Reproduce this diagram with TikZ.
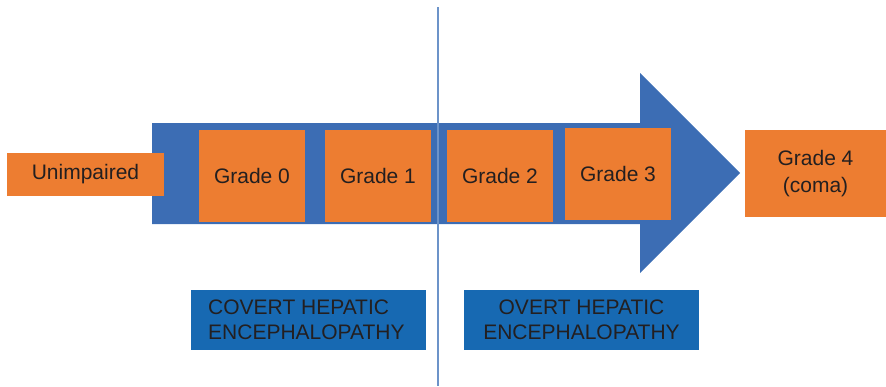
\documentclass[tikz,border=0pt]{standalone}
\usepackage{fontspec}
\setmainfont{Liberation Sans}
\definecolor{stageorange}{HTML}{ED7D31}
\definecolor{arrowblue}{HTML}{3C6DB4}
\definecolor{labelblue}{HTML}{1769B2}
\definecolor{dividerblue}{HTML}{6C93C9}
\definecolor{inkdark}{HTML}{231F20}
\begin{document}
\begin{tikzpicture}[x=1pt,y=-1pt,
  stagebox/.style={fill=stageorange, draw=none, inner sep=0pt, text=inkdark,
    font=\fontsize{21}{27}\selectfont, align=center},
  phasebox/.style={fill=labelblue, draw=none, inner sep=0pt, text=inkdark,
    font=\fontsize{21}{25}\selectfont, minimum width=235pt, minimum height=60pt}
]
\useasboundingbox (0,0) rectangle (886,386);

% progression arrow
\fill[arrowblue] (152,123) -- (640,123) -- (640,73) -- (740,173)
  -- (640,273) -- (640,224) -- (152,224) -- cycle;

% stages
\node[stagebox, minimum width=157pt, minimum height=43pt] (unimp) at (85.5,174.5) {Unimpaired};
\node[stagebox, minimum width=106pt, minimum height=92pt] (g0) at (252,176) {Grade 0};
\node[stagebox, minimum width=106pt, minimum height=92pt] (g1) at (378,176) {Grade 1};
\node[stagebox, minimum width=106pt, minimum height=92pt] (g2) at (500,176) {Grade 2};
\node[stagebox, minimum width=106pt, minimum height=92pt] (g3) at (618,174) {Grade 3};
\node[stagebox, minimum width=141pt, minimum height=87pt] (g4) at (815.5,173.5) {Grade 4\\(coma)};

% divider between covert and overt
\draw[dividerblue, line width=1.4pt] (438,7) coordinate (dtop) -- (438,386) coordinate (dbot);

% phase labels
\node[phasebox] (covert) at (308.5,320) {};
\node[anchor=west, inner sep=0pt, text=inkdark, align=left,
  font=\fontsize{21}{25}\selectfont] (coverttext) at (208,320)
  {COVERT HEPATIC\\ENCEPHALOPATHY};
\node[phasebox, align=center] (overt) at (581.5,320) {OVERT HEPATIC\\ENCEPHALOPATHY};
\end{tikzpicture}
\end{document}
